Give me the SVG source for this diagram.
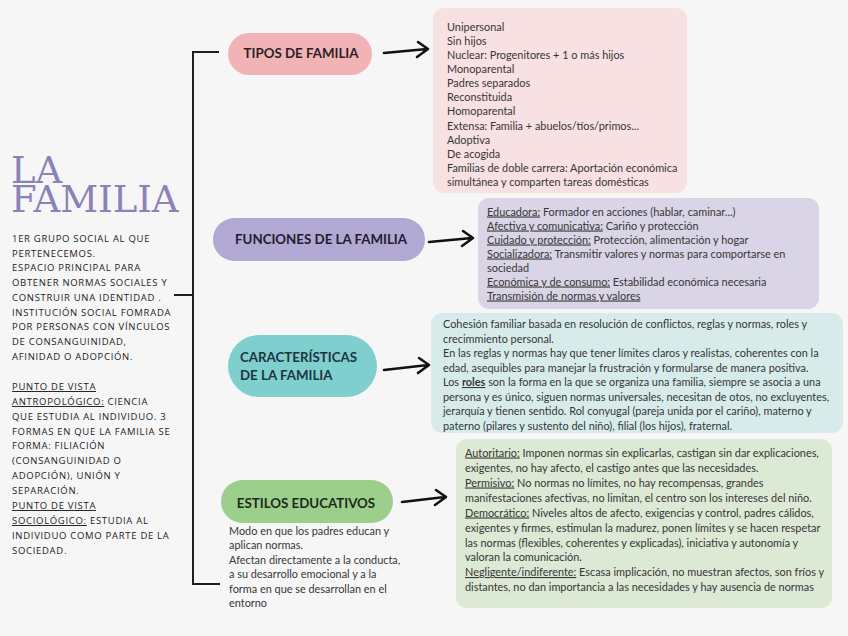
<svg xmlns="http://www.w3.org/2000/svg" width="848" height="636" viewBox="0 0 848 636">
<style>
.bg{fill:#f7f6f7}
.title{font-family:"DejaVu Serif","Liberation Serif",serif;font-size:37px;fill:#8b82b8}
.side{font-family:"Open Sans","Noto Sans",sans-serif;font-size:9.5px;letter-spacing:0.7px;fill:#1c1c1c}
.pill{font-family:Lato,"Open Sans",sans-serif;font-weight:bold;font-size:13.3px}
.body{font-family:Lato,"Open Sans",sans-serif;font-size:10.9px;fill:#363636}
.u{text-decoration:underline}
.conn{fill:none;stroke:#1e1e1e;stroke-width:2}
.arrow{fill:none;stroke:#111;stroke-width:2.6;stroke-linecap:round;stroke-linejoin:round}
</style>
<rect class="bg" x="0" y="0" width="848" height="636"/>

<g id="title">
<text class="title"><tspan x="11" y="183">LA</tspan><tspan x="11" y="212">FAMILIA</tspan></text>
</g>

<g id="intro">
<text class="side" x="12">
<tspan x="12" y="242">1ER GRUPO SOCIAL AL QUE</tspan>
<tspan x="12" y="257">PERTENECEMOS.</tspan>
<tspan x="12" y="271">ESPACIO PRINCIPAL PARA</tspan>
<tspan x="12" y="286">OBTENER NORMAS SOCIALES Y</tspan>
<tspan x="12" y="301">CONSTRUIR UNA IDENTIDAD .</tspan>
<tspan x="12" y="316">INSTITUCIÓN SOCIAL FOMRADA</tspan>
<tspan x="12" y="330">POR PERSONAS CON VÍNCULOS</tspan>
<tspan x="12" y="345">DE CONSANGUINIDAD,</tspan>
<tspan x="12" y="360">AFINIDAD O ADOPCIÓN.</tspan>
<tspan x="12" y="390" class="u">PUNTO DE VISTA</tspan>
<tspan x="12" y="405" class="u">ANTROPOLÓGICO:</tspan><tspan> CIENCIA</tspan>
<tspan x="12" y="420">QUE ESTUDIA AL INDIVIDUO. 3</tspan>
<tspan x="12" y="435">FORMAS EN QUE LA FAMILIA SE</tspan>
<tspan x="12" y="449">FORMA: FILIACIÓN</tspan>
<tspan x="12" y="464">(CONSANGUINIDAD O</tspan>
<tspan x="12" y="479">ADOPCIÓN), UNIÓN Y</tspan>
<tspan x="12" y="494">SEPARACIÓN.</tspan>
<tspan x="12" y="509" class="u">PUNTO DE VISTA</tspan>
<tspan x="12" y="524" class="u">SOCIOLÓGICO:</tspan><tspan> ESTUDIA AL</tspan>
<tspan x="12" y="539">INDIVIDUO COMO PARTE DE LA</tspan>
<tspan x="12" y="554">SOCIEDAD.</tspan>
</text>
</g>

<g id="connectors">
<path class="conn" d="M219,52 H193 V584 H220"/>
<path class="conn" d="M174,295 H193"/>
<path class="arrow" d="M384,53 L427,49 M418,42 L428,49 L417,57"/>
<path class="arrow" d="M429,242 L472,238 M463,231 L473,238 L462,246"/>
<path class="arrow" d="M384,370 L428,365 M419,358 L429,365 L418,373"/>
<path class="arrow" d="M402,502 L445,497 M436,490 L446,497 L435,505"/>
</g>

<g id="tipos">
<rect x="228" y="33" width="144" height="42" rx="21" fill="#f2b3b6"/>
<text class="pill" x="301" y="58" text-anchor="middle" fill="#2b1f26">TIPOS DE FAMILIA</text>
</g>

<g id="tipos-list">
<rect x="433" y="8" width="254" height="185" rx="11" fill="#f8e1e2"/>
<text class="body">
<tspan x="447" y="30.5">Unipersonal</tspan>
<tspan x="447" y="44.5">Sin hijos</tspan>
<tspan x="447" y="58.5">Nuclear: Progenitores + 1 o más hijos</tspan>
<tspan x="447" y="72.5">Monoparental</tspan>
<tspan x="447" y="87">Padres separados</tspan>
<tspan x="447" y="101">Reconstituida</tspan>
<tspan x="447" y="115">Homoparental</tspan>
<tspan x="447" y="130">Extensa: Familia + abuelos/tíos/primos...</tspan>
<tspan x="447" y="144">Adoptiva</tspan>
<tspan x="447" y="158">De acogida</tspan>
<tspan x="447" y="172">Familias de doble carrera: Aportación económica</tspan>
<tspan x="447" y="186">simultánea y comparten tareas domésticas</tspan>
</text>
</g>

<g id="funciones">
<rect x="213" y="218" width="212" height="43" rx="21.5" fill="#b1a8d3"/>
<text class="pill" x="321" y="244" text-anchor="middle" fill="#1f1b30" font-size="13.8">FUNCIONES DE LA FAMILIA</text>
</g>

<g id="funciones-list">
<rect x="478" y="198" width="341" height="111" rx="11" fill="#d9d4e6"/>
<text class="body">
<tspan x="487" y="215.5" class="u">Educadora:</tspan><tspan> Formador en acciones (hablar, caminar...)</tspan>
<tspan x="487" y="229.5" class="u">Afectiva y comunicativa:</tspan><tspan> Cariño y protección</tspan>
<tspan x="487" y="243.5" class="u">Cuidado y protección:</tspan><tspan> Protección, alimentación y hogar</tspan>
<tspan x="487" y="257.5" class="u">Socializadora:</tspan><tspan> Transmitir valores y normas para comportarse en</tspan>
<tspan x="487" y="271.5">sociedad</tspan>
<tspan x="487" y="285.5" class="u">Económica y de consumo:</tspan><tspan> Estabilidad económica necesaria</tspan>
<tspan x="487" y="299.5" class="u">Transmisión de normas y valores</tspan>
</text>
</g>

<g id="caracteristicas">
<rect x="228" y="335" width="149" height="62" rx="31" fill="#7ecfcd"/>
<text class="pill" fill="#1d3540" font-size="15"><tspan x="240" y="362">CARACTERÍSTICAS</tspan><tspan x="240" y="380">DE LA FAMILIA</tspan></text>
</g>

<g id="caracteristicas-list">
<rect x="431" y="313" width="412" height="120" rx="11" fill="#d7ecea"/>
<text class="body">
<tspan x="443" y="328">Cohesión familiar basada en resolución de conflictos, reglas y normas, roles y</tspan>
<tspan x="443" y="342.5">crecimmiento personal.</tspan>
<tspan x="443" y="357">En las reglas y normas hay que tener límites claros y realistas, coherentes con la</tspan>
<tspan x="443" y="371.5">edad, asequibles para manejar la frustración y formularse de manera positiva.</tspan>
<tspan x="443" y="386">Los </tspan><tspan class="u" font-weight="bold">roles</tspan><tspan> son la forma en la que se organiza una familia, siempre se asocia a una</tspan>
<tspan x="443" y="400.5">persona y es único, siguen normas universales, necesitan de otos, no excluyentes,</tspan>
<tspan x="443" y="415">jerarquía y tienen sentido. Rol conyugal (pareja unida por el cariño), materno y</tspan>
<tspan x="443" y="429.5">paterno (pilares y sustento del niño), filial (los hijos), fraternal.</tspan>
</text>
</g>

<g id="estilos">
<rect x="221" y="480" width="172" height="43" rx="21.5" fill="#9dcf8c"/>
<text class="pill" x="306" y="507.5" text-anchor="middle" fill="#1c2a1c" font-size="16">ESTILOS EDUCATIVOS</text>
<text class="body" fill="#404040">
<tspan x="229" y="534.5">Modo en que los padres educan y</tspan>
<tspan x="229" y="549">aplican normas.</tspan>
<tspan x="229" y="563.5">Afectan directamente a la conducta,</tspan>
<tspan x="229" y="578">a su desarrollo emocional y a la</tspan>
<tspan x="229" y="592.5">forma en que se desarrollan en el</tspan>
<tspan x="229" y="607">entorno</tspan>
</text>
</g>

<g id="estilos-list">
<rect x="456" y="439" width="376" height="169" rx="11" fill="#dce9d5"/>
<text class="body">
<tspan x="465" y="456.5" class="u">Autoritario:</tspan><tspan> Imponen normas sin explicarlas, castigan sin dar explicaciones,</tspan>
<tspan x="465" y="471.5">exigentes, no hay afecto, el castigo antes que las necesidades.</tspan>
<tspan x="465" y="486.5" class="u">Permisivo:</tspan><tspan> No normas no límites, no hay recompensas, grandes</tspan>
<tspan x="465" y="501.5">manifestaciones afectivas, no limitan, el centro son los intereses del niño.</tspan>
<tspan x="465" y="516.5" class="u">Democrático:</tspan><tspan> Niveles altos de afecto, exigencias y control, padres cálidos,</tspan>
<tspan x="465" y="531.5">exigentes y firmes, estimulan la madurez, ponen límites y se hacen respetar</tspan>
<tspan x="465" y="546.5">las normas (flexibles, coherentes y explicadas), iniciativa y autonomía y</tspan>
<tspan x="465" y="561">valoran la comunicación.</tspan>
<tspan x="465" y="576" class="u">Negligente/indiferente:</tspan><tspan> Escasa implicación, no muestran afectos, son fríos y</tspan>
<tspan x="465" y="591">distantes, no dan importancia a las necesidades y hay ausencia de normas</tspan>
</text>
</g>
</svg>
